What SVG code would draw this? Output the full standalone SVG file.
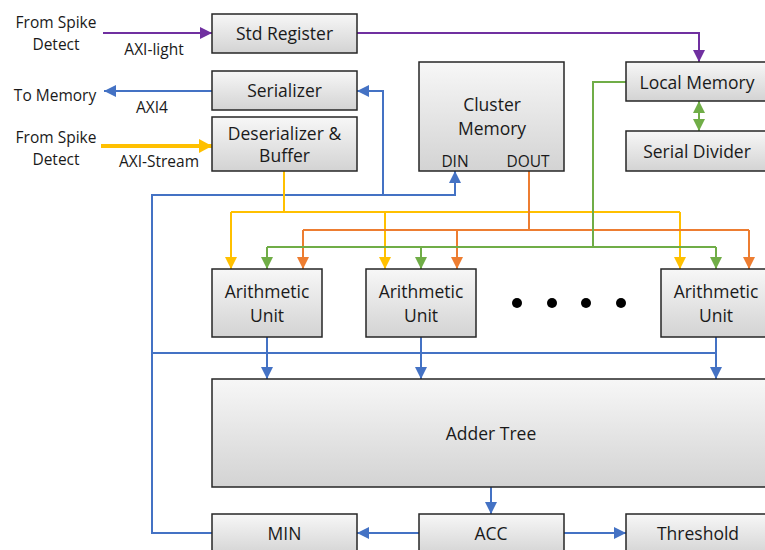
<svg xmlns="http://www.w3.org/2000/svg" width="765" height="550" viewBox="0 0 765 550">
<style>
.box{stroke:#262626;stroke-width:1.5}
.t{font-family:"Open Sans","Liberation Sans",sans-serif;font-size:17.5px;fill:#1a1a1a;text-anchor:middle;dominant-baseline:central}
.l{font-family:"Open Sans","Liberation Sans",sans-serif;font-size:15.5px;fill:#1a1a1a;text-anchor:middle;dominant-baseline:central}
.c{fill:none;stroke-width:2}
.bl{stroke:#4472C4}.pu{stroke:#7030A0}.ye{stroke:#FFC000}.or{stroke:#ED7D31}.gr{stroke:#70AD47}
</style>
<defs>
<linearGradient id="g" x1="0" y1="0" x2="0" y2="1">
<stop offset="0" stop-color="#f7f7f7"/><stop offset="1" stop-color="#d3d3d3"/>
</linearGradient>
<marker id="ab" markerUnits="userSpaceOnUse" markerWidth="14" markerHeight="14" refX="12" refY="6" orient="auto"><path d="M0,0 L12,6 L0,12 Z" fill="#4472C4"/></marker>
<marker id="ap" markerUnits="userSpaceOnUse" markerWidth="14" markerHeight="14" refX="12" refY="6" orient="auto"><path d="M0,0 L12,6 L0,12 Z" fill="#7030A0"/></marker>
<marker id="ay" markerUnits="userSpaceOnUse" markerWidth="14" markerHeight="14" refX="12" refY="6" orient="auto"><path d="M0,0 L12,6 L0,12 Z" fill="#FFC000"/></marker>
<marker id="ayt" markerUnits="userSpaceOnUse" markerWidth="16" markerHeight="16" refX="13" refY="7" orient="auto"><path d="M0,0 L13,7 L0,14 Z" fill="#FFC000"/></marker>
<marker id="ao" markerUnits="userSpaceOnUse" markerWidth="14" markerHeight="14" refX="12" refY="6" orient="auto"><path d="M0,0 L12,6 L0,12 Z" fill="#ED7D31"/></marker>
<marker id="ag" markerUnits="userSpaceOnUse" markerWidth="14" markerHeight="14" refX="12" refY="6" orient="auto"><path d="M0,0 L12,6 L0,12 Z" fill="#70AD47"/></marker>
<marker id="ags" markerUnits="userSpaceOnUse" markerWidth="14" markerHeight="14" refX="12" refY="6" orient="auto-start-reverse"><path d="M0,0 L12,6 L0,12 Z" fill="#70AD47"/></marker>
</defs>
<rect width="765" height="550" fill="#ffffff"/>

<g id="connectors">
<path class="c pu" d="M103,33 H212" marker-end="url(#ap)"/>
<path class="c pu" d="M357,33 H699 V62" marker-end="url(#ap)"/>
<path class="c bl" d="M212,91 H104" marker-end="url(#ab)"/>
<path class="c ye" d="M101,146 H212" style="stroke-width:4" marker-end="url(#ayt)"/>
<path class="c bl" d="M383,195 V91 H357" marker-end="url(#ab)"/>
<path class="c bl" d="M212,533 H152 V195 H455 V171" marker-end="url(#ab)"/>
<path class="c bl" d="M152,353 H716"/>
<path class="c bl" d="M267,337 V379" marker-end="url(#ab)"/>
<path class="c bl" d="M421,337 V379" marker-end="url(#ab)"/>
<path class="c bl" d="M716,337 V379" marker-end="url(#ab)"/>
<path class="c bl" d="M491,487 V514" marker-end="url(#ab)"/>
<path class="c bl" d="M419,533 H357" marker-end="url(#ab)"/>
<path class="c bl" d="M564,533 H626" marker-end="url(#ab)"/>
<path class="c ye" d="M284,171 V212"/>
<path class="c ye" d="M231,212 H680"/>
<path class="c ye" d="M231,212 V269" marker-end="url(#ay)"/>
<path class="c ye" d="M385,212 V269" marker-end="url(#ay)"/>
<path class="c ye" d="M680,212 V269" marker-end="url(#ay)"/>
<path class="c or" d="M529,171 V230"/>
<path class="c or" d="M303,230 H749"/>
<path class="c or" d="M303,230 V269" marker-end="url(#ao)"/>
<path class="c or" d="M457,230 V269" marker-end="url(#ao)"/>
<path class="c or" d="M749,230 V269" marker-end="url(#ao)"/>
<path class="c gr" d="M626,82 H593 V247"/>
<path class="c gr" d="M267,247 H716"/>
<path class="c gr" d="M267,247 V269" marker-end="url(#ag)"/>
<path class="c gr" d="M421,247 V269" marker-end="url(#ag)"/>
<path class="c gr" d="M716,247 V269" marker-end="url(#ag)"/>
<path class="c gr" d="M699,101 V131" marker-start="url(#ags)" marker-end="url(#ag)"/>
</g>

<g id="labels">
<text class="l" x="56" y="22">From Spike</text>
<text class="l" x="56" y="44">Detect</text>
<text class="l" x="154" y="49">AXI-light</text>
<text class="l" x="55" y="95">To Memory</text>
<text class="l" x="152" y="107">AXI4</text>
<text class="l" x="56" y="137">From Spike</text>
<text class="l" x="56" y="159">Detect</text>
<text class="l" x="159" y="161">AXI-Stream</text>
</g>

<g id="std-register"><rect class="box" x="212" y="14" width="145" height="39" fill="url(#g)"/><text class="t" x="284.5" y="33">Std Register</text></g>
<g id="serializer"><rect class="box" x="212" y="71" width="145" height="39" fill="url(#g)"/><text class="t" x="284.5" y="90">Serializer</text></g>
<g id="deserializer"><rect class="box" x="212" y="117" width="145" height="54" fill="url(#g)"/><text class="t" x="284.5" y="133">Deserializer &amp;</text><text class="t" x="284.5" y="155">Buffer</text></g>
<g id="cluster-memory"><rect class="box" x="419" y="62" width="145" height="109" fill="url(#g)"/><text class="t" x="492" y="104">Cluster</text><text class="t" x="492" y="128">Memory</text><text class="l" x="455" y="161">DIN</text><text class="l" x="528" y="161">DOUT</text></g>
<g id="local-memory"><rect class="box" x="626" y="62" width="145" height="39" fill="url(#g)"/><text class="t" x="697" y="82">Local Memory</text></g>
<g id="serial-divider"><rect class="box" x="626" y="131" width="145" height="40" fill="url(#g)"/><text class="t" x="697" y="151">Serial Divider</text></g>
<g id="au1"><rect class="box" x="212" y="269" width="110" height="68" fill="url(#g)"/><text class="t" x="267" y="291">Arithmetic</text><text class="t" x="267" y="315">Unit</text></g>
<g id="au2"><rect class="box" x="366" y="269" width="110" height="68" fill="url(#g)"/><text class="t" x="421" y="291">Arithmetic</text><text class="t" x="421" y="315">Unit</text></g>
<g id="au3"><rect class="box" x="661" y="269" width="110" height="68" fill="url(#g)"/><text class="t" x="716" y="291">Arithmetic</text><text class="t" x="716" y="315">Unit</text></g>
<g id="dots" fill="#000"><circle cx="517" cy="303" r="5"/><circle cx="552" cy="303" r="5"/><circle cx="586" cy="303" r="5"/><circle cx="621" cy="303" r="5"/></g>
<g id="adder-tree"><rect class="box" x="212" y="379" width="560" height="108" fill="url(#g)"/><text class="t" x="491" y="433">Adder Tree</text></g>
<g id="min"><rect class="box" x="212" y="514" width="145" height="42" fill="url(#g)"/><text class="t" x="284.5" y="533">MIN</text></g>
<g id="acc"><rect class="box" x="419" y="514" width="145" height="42" fill="url(#g)"/><text class="t" x="491" y="533">ACC</text></g>
<g id="threshold"><rect class="box" x="626" y="514" width="145" height="42" fill="url(#g)"/><text class="t" x="698" y="533">Threshold</text></g>
</svg>
